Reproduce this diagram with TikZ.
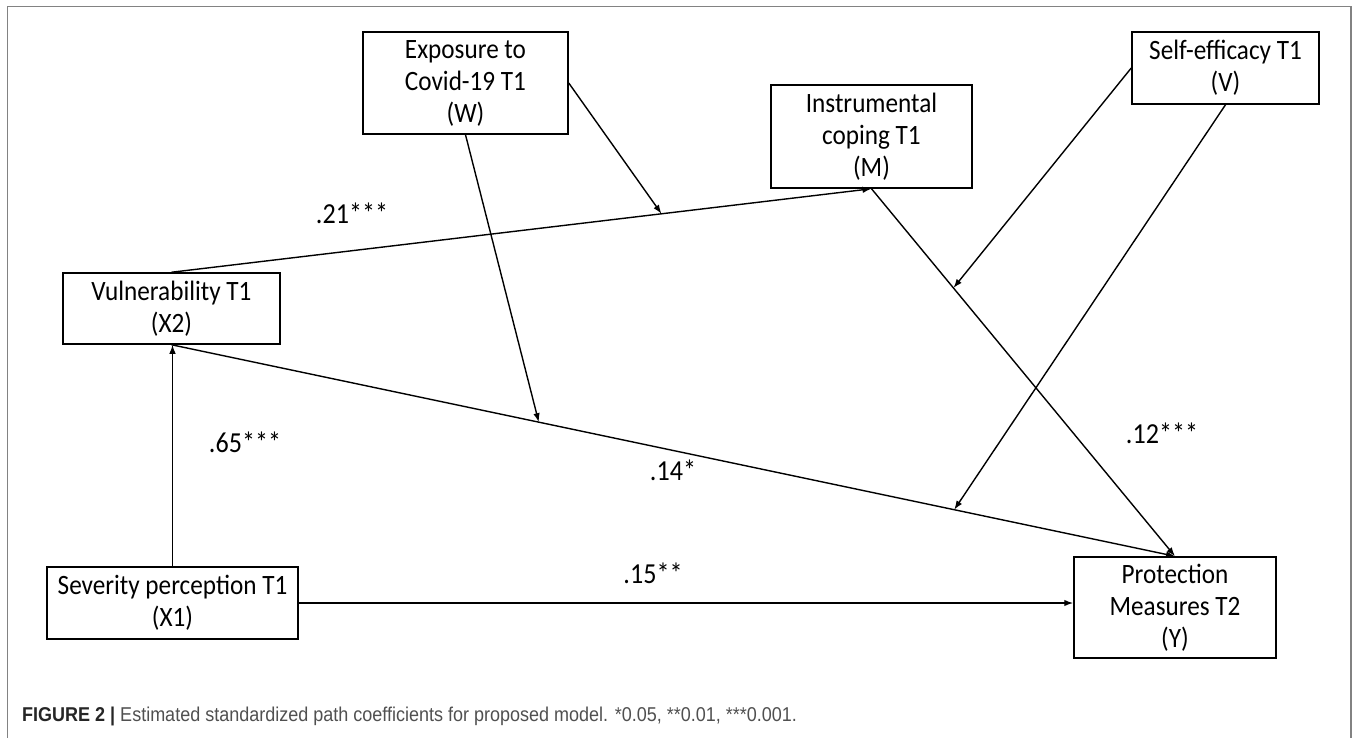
\documentclass[tikz,border=0pt]{standalone}
\usepackage{fontspec}
\setmainfont{Carlito}[FakeStretch=0.9]
\newfontfamily\capfont{Liberation Sans}[FakeStretch=0.9]
\usetikzlibrary{arrows.meta, positioning}
\definecolor{framegray}{RGB}{130,130,130}
\definecolor{capgray}{RGB}{80,80,80}
\tikzset{
	varbox/.style = {draw, line width=1.5pt, align=center, inner sep=3pt,
		font=\fontsize{28}{32}\selectfont},
	effect/.style = {line width=1.4pt, -{Latex[length=9pt,width=6.5pt]}},
	coef/.style = {font=\fontsize{29}{32}\selectfont},
}
\NewDocumentCommand{\varnode}{m m m m m}{%
	\node[varbox, minimum width=#3pt, minimum height=#4pt] (#1) at #2 {#5};
}
\begin{document}
\begin{tikzpicture}[x=1pt, y=-1pt]
\useasboundingbox (0,0) rectangle (1358,738);
\draw[framegray, line width=1.8pt] (7.5,738) |- (1351,6.5) -- (1351,738);

% variables
\varnode{W}{(465.5,83)}{205}{102}{Exposure to\\Covid-19 T1\\(W)}
\varnode{M}{(871.5,136.5)}{201}{103}{Instrumental\\coping T1\\(M)}
\varnode{V}{(1225.5,68)}{187}{72}{Self-efficacy T1\\(V)}
\varnode{X2}{(171.5,308.5)}{217}{71}{Vulnerability T1\\(X2)}
\varnode{X1}{(172.5,603)}{251}{72}{Severity perception T1\\(X1)}
\varnode{Y}{(1175,607.5)}{202}{101}{Protection\\Measures T2\\(Y)}

% paths
\draw[effect] (X1.north) -- (X1.north |- X2.south);
\draw[effect] (X1.east) -- (X1.east -| Y.west);
\draw[effect] (X2.north) -- coordinate[pos=0.70] (onXM) (M.south);
\draw[effect] (X2.south) -- coordinate[pos=0.366] (onXYw) coordinate[pos=0.78] (onXYv) (Y.north);
\draw[effect] (M.south) -- coordinate[pos=0.27] (onMY) (Y.north);

% moderators
\draw[effect] (W.east) -- (onXM);
\draw[effect] (W.south) -- (onXYw);
\draw[effect] (V.west) -- (onMY);
\draw[effect] (V.south) -- (onXYv);

% coefficients
\node[coef] (c21) at (352,213) {.21***};
\node[coef] (c65) at (245,442) {.65***};
\node[coef] (c14) at (673,470) {.14*};
\node[coef] (c15) at (653,573) {.15**};
\node[coef] (c12) at (1162,433) {.12***};

\node[anchor=west, inner sep=0pt, font=\capfont\fontsize{20}{24}\selectfont, text=capgray] (cap) at (22,716)
	{{\bfseries\color{black!85}FIGURE 2 |} Estimated standardized path coefficients for proposed model. *0.05, **0.01, ***0.001.};
\end{tikzpicture}
\end{document}
